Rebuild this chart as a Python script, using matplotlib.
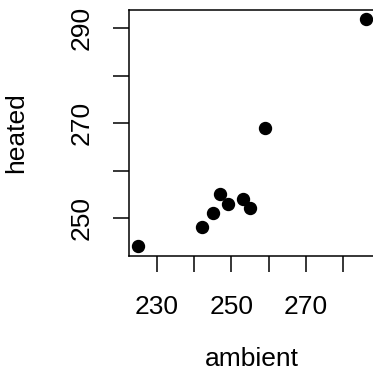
import numpy as np
import matplotlib
matplotlib.use("Agg")
import matplotlib.pyplot as plt

ambient = [225, 242, 245, 247, 249, 253, 255, 259, 286]
heated = [244, 248, 251, 255, 253, 254, 252, 269, 292]

x_ticks = [230, 240, 250, 260, 270, 280]
x_labels = ["230", "", "250", "", "270", ""]
y_ticks = [250, 260, 270, 280, 290]
y_labels = ["250", "", "270", "", "290"]

plt.rcParams["font.family"] = ["Liberation Sans", "DejaVu Sans"]

W, H = 373, 378
fig = plt.figure(figsize=(W / 100, H / 100), dpi=100)
fig.patch.set_facecolor("white")

# axes box in pixels: left 129, right 374.7, top 9.8, bottom 255.5
left, right, top, bottom = 129, 374.7, 9.8, 255.5
ax = fig.add_axes([left / W, (H - bottom) / H, (right - left) / W, (bottom - top) / H])

ax.plot(ambient, heated, "o", color="black", markersize=8.6, clip_on=False)

# R-style 4% padding
xr = max(ambient) - min(ambient)
yr = max(heated) - min(heated)
ax.set_xlim(min(ambient) - 0.04 * xr, max(ambient) + 0.04 * xr)
ax.set_ylim(min(heated) - 0.04 * yr, max(heated) + 0.04 * yr)

ax.set_xticks(x_ticks)
ax.set_xticklabels(x_labels)
ax.set_yticks(y_ticks)
ax.set_yticklabels(y_labels, rotation=90, va="center")

for s in ax.spines.values():
    s.set_linewidth(1.1)
ax.tick_params(direction="out", length=11.5, width=1.1, labelsize=19, colors="black")
ax.tick_params(axis="x", pad=17)
ax.tick_params(axis="y", pad=14)

ax.set_xlabel("ambient", fontsize=19, labelpad=20)
ax.set_ylabel("heated", fontsize=19, labelpad=30)

fig.savefig("out.png", dpi=100, facecolor="white")
